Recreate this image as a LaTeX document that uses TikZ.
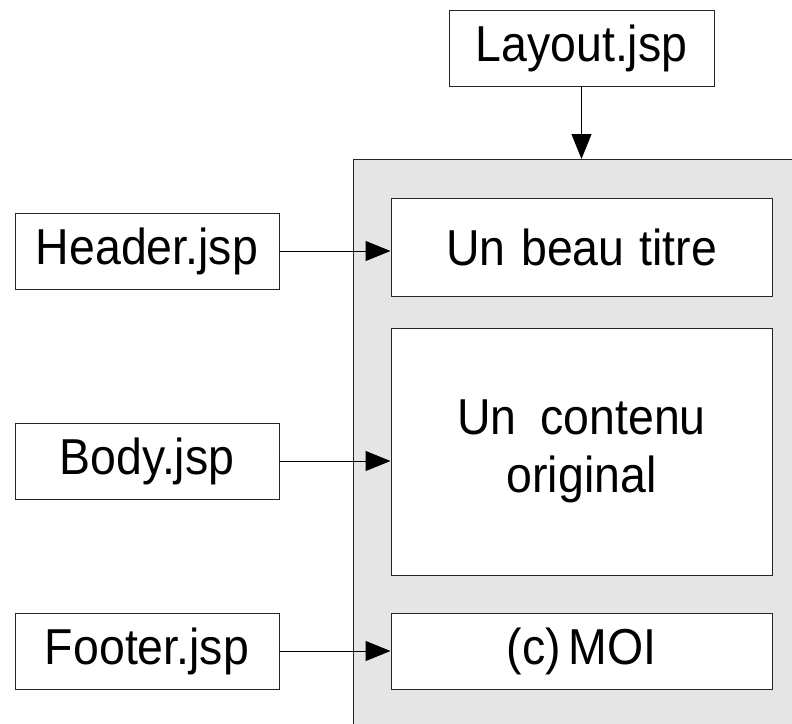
\documentclass[tikz,border=0pt]{standalone}
\usepackage{fontspec}
\setmainfont{Liberation Sans}[FakeStretch=0.92]
\usetikzlibrary{arrows.meta}
\tikzset{
  box/.style={draw=black!85, line width=1pt, fill=white, inner sep=0pt, align=center,
    font=\fontsize{50.5}{58}\selectfont},
  pagebox/.style={draw=black!85, line width=1pt, fill=black!10, inner sep=0pt, anchor=north west},
  conn/.style={draw=black, line width=1pt, -{Triangle[length=25pt,width=20pt]}}
}
\begin{document}
\begin{tikzpicture}[x=1pt,y=-1pt]
\useasboundingbox (0,0) rectangle (792,723);
\clip (0,0) rectangle (792,723);
\node[pagebox, minimum width=480pt, minimum height=600pt] (page) at (353,159) {};
\node[box, minimum width=265pt, minimum height=76pt] (layout) at (581.5,48) {Layout.jsp};
\node[box, minimum width=264pt, minimum height=76pt] (header) at (147,251) {Header.jsp};
\node[box, minimum width=264pt, minimum height=76pt] (body) at (147,461) {Body.jsp};
\node[box, minimum width=264pt, minimum height=76pt] (footer) at (147,651) {Footer.jsp};
\node[box, minimum width=381pt, minimum height=98pt] (titre) at (581.5,247) {Un\hspace{3pt} beau\hspace{2pt} titre};
\node[box, minimum width=381pt, minimum height=247pt] (contenu) at (581.5,451.5) {Un\hspace{11pt} contenu\\original};
\node[box, minimum width=381pt, minimum height=76pt] (moi) at (581.5,651) {(c)\hspace{-5pt} MOI};
\draw[conn] (layout.south) -- (layout.south |- page.north);
\draw[conn] (header.east) -- (header.east -| titre.west);
\draw[conn] (body.east) -- (body.east -| contenu.west);
\draw[conn] (footer.east) -- (footer.east -| moi.west);
\end{tikzpicture}
\end{document}
